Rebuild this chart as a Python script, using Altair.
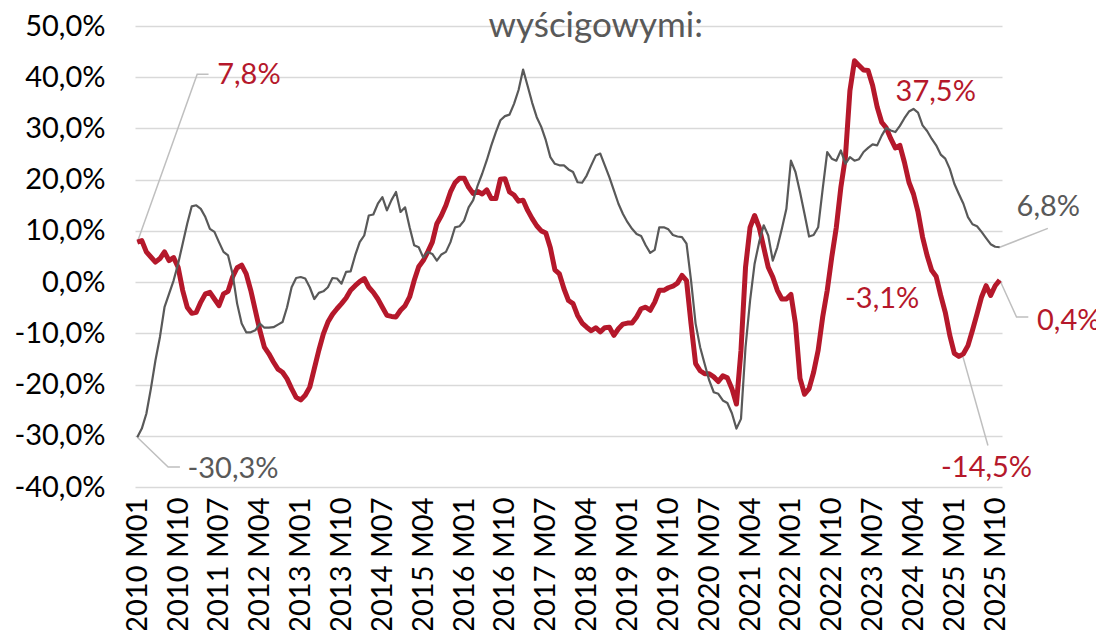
import altair as alt
import pandas as pd

START_YEAR = 2010
red_values = [
    7.8, 8.1, 5.9, 4.9, 3.9, 4.6, 5.9, 4.2, 4.8, 2.9,
    -1.6, -4.9, -6.1, -5.9, -3.9, -2.3, -2.0, -3.3, -4.6, -2.3,
    -1.8, 1.0, 2.8, 3.3, 1.6, -1.6, -5.5, -9.4, -12.7, -14.0,
    -15.6, -17.0, -17.6, -18.9, -20.8, -22.5, -23.0, -22.1, -20.5, -16.9,
    -13.3, -10.1, -7.8, -6.3, -5.2, -4.2, -3.1, -1.6, -0.7, 0.1,
    0.7, -1.0, -2.0, -3.3, -4.9, -6.5, -6.7, -6.8, -5.5, -4.6,
    -2.9, 0.3, 3.0, 4.2, 5.9, 7.8, 11.4, 13.0, 15.0, 17.6,
    19.4, 20.3, 20.3, 18.5, 17.3, 17.7, 17.2, 18.0, 16.3, 16.3,
    20.1, 20.2, 17.6, 17.0, 15.8, 16.0, 14.0, 12.4, 11.0, 10.0,
    9.6, 6.7, 2.4, 1.6, -1.3, -3.6, -4.2, -6.5, -8.0, -8.8,
    -9.5, -8.9, -9.7, -8.9, -8.8, -10.4, -9.1, -8.2, -8.0, -8.0,
    -6.8, -5.2, -4.9, -5.5, -3.9, -1.6, -1.6, -1.1, -0.8, -0.2,
    1.3, 0.3, -8.2, -15.9, -17.3, -17.9, -17.9, -18.5, -19.4, -18.3,
    -18.7, -20.8, -23.8, -13.3, 2.9, 10.7, 13.0, 10.7, 6.8, 2.9,
    1.0, -1.6, -3.3, -3.3, -2.4, -8.1, -18.8, -21.9, -20.8, -17.6,
    -13.3, -6.8, -1.6, 4.9, 10.7, 18.5, 24.4, 37.4, 43.2, 42.3,
    41.4, 41.3, 38.4, 34.2, 31.2, 30.1, 28.0, 26.2, 26.7, 23.4,
    19.5, 17.2, 13.7, 8.8, 5.2, 2.3, 1.1, -2.6, -5.9, -10.4,
    -13.9, -14.5, -14.0, -12.4, -9.4, -6.2, -2.9, -0.7, -2.6, -0.7,
    0.4,
]
gray_values = [
    -30.3, -28.6, -25.7, -20.8, -15.3, -10.7, -4.9, -2.3, 0.3, 3.6,
    7.5, 11.4, 14.8, 15.0, 14.3, 12.7, 10.4, 9.8, 7.8, 5.9,
    5.2, 1.6, -4.2, -8.1, -9.8, -9.8, -9.4, -8.1, -8.9, -8.9,
    -8.8, -8.3, -7.8, -4.9, -1.0, 0.8, 1.0, 0.7, -1.0, -3.3,
    -2.1, -1.8, -1.0, 0.8, 0.7, -0.3, 2.0, 2.1, 5.2, 7.8,
    9.1, 13.0, 13.2, 15.3, 16.6, 14.0, 16.0, 17.6, 13.7, 14.6,
    10.7, 7.2, 6.8, 4.8, 5.9, 5.5, 4.2, 5.4, 5.9, 7.8,
    10.7, 10.9, 12.0, 14.6, 16.0, 18.9, 21.2, 23.8, 26.7, 29.3,
    31.6, 32.4, 32.7, 34.8, 37.5, 41.5, 38.3, 35.0, 32.2, 30.3,
    27.7, 24.4, 23.1, 22.8, 22.8, 22.0, 21.5, 19.5, 19.4, 20.8,
    22.8, 24.7, 25.1, 22.8, 20.5, 17.9, 15.3, 13.3, 11.7, 10.4,
    9.4, 9.0, 7.2, 5.7, 6.3, 10.7, 10.7, 10.3, 9.2, 8.9,
    8.8, 7.5, 0.3, -8.1, -12.7, -16.0, -19.2, -21.5, -21.8, -23.1,
    -23.6, -25.6, -28.6, -26.7, -12.7, -3.6, 3.6, 7.8, 11.1, 9.1,
    4.2, 6.8, 10.4, 14.3, 23.7, 21.5, 17.6, 13.3, 8.9, 9.2,
    10.7, 18.2, 25.4, 24.1, 23.7, 25.7, 23.1, 24.4, 23.7, 24.0,
    25.4, 26.2, 26.9, 26.7, 28.6, 30.1, 29.6, 29.3, 30.5, 32.0,
    33.3, 33.8, 33.1, 30.6, 29.5, 28.0, 26.7, 24.9, 24.1, 22.1,
    19.2, 17.2, 15.3, 12.7, 11.3, 10.9, 9.8, 8.6, 7.4, 6.9,
    6.8,
]

# annotation labels (text, month-index position, value position, colour key)
label_texts = ["7,8%", "-30,3%", "6,8%", "0,4%", "-14,5%", "37,5%", "-3,1%"]
label_x = [24.6, 21.1, 200.7, 205.2, 187.1, 175.9, 164.1]
label_y = [40.4, -36.4, 14.6, -7.5, -36.2, 37.1, -3.2]
label_col = ["red", "gray", "gray", "red", "red", "red", "red"]

# leader lines: id, month-index, value
leader_id = [0, 0, 0, 1, 1, 1, 2, 2, 3, 3, 3, 4, 4]
leader_x = [0, 13.2, 15.7, 0, 6.8, 9.4, 190, 200.6, 190, 193.7, 196.3, 181.9, 187.4]
leader_y = [7.8, 40.6, 40.6, -30.3, -36.1, -36.1, 6.8, 10.5, 0.4, -6.8, -6.8, -14.6, -31.9]

title_text = "wyścigowymi:"
y_ticks = [-40, -30, -20, -10, 0, 10, 20, 30, 40, 50]
x_ticks = list(range(0, 190, 9))

RED = "#B5182B"
GRAY = "#595959"
FONT = "Lato"
FS = 29

n = len(red_values)
df_red = pd.DataFrame({"i": range(n), "v": red_values})
df_gray = pd.DataFrame({"i": range(len(gray_values)), "v": gray_values})
df_lab = pd.DataFrame({"t": label_texts, "i": label_x, "v": label_y, "c": label_col})
df_lead = pd.DataFrame({"id": leader_id, "i": leader_x, "v": leader_y,
                        "o": list(range(len(leader_id)))})
df_title = pd.DataFrame({"t": [title_text], "i": [101], "v": [47.9]})

x_label_expr = ("toString(%d + floor(datum.value / 12)) + ' M' + "
                "((datum.value %% 12) + 1 < 10 ? '0' : '') + toString((datum.value %% 12) + 1)"
                % START_YEAR)
y_label_expr = ("(datum.value < 0 ? '-' : '') + "
                "replace(format(abs(datum.value), '.1f'), '.', ',') + '%'")

xscale = alt.Scale(domain=[-0.5, n - 0.5], nice=False, zero=False)
yscale = alt.Scale(domain=[-40, 50], nice=False, zero=False)

x_enc = alt.X("i:Q", scale=xscale, axis=alt.Axis(
    values=x_ticks, labelExpr=x_label_expr, labelAngle=-90, labelAlign="right",
    labelBaseline="middle", labelFont=FONT, labelFontSize=FS, labelColor="#000000",
    labelPadding=10, ticks=False, domain=False, grid=False, title=None,
    labelOverlap=False, labelFlush=False))
y_enc = alt.Y("v:Q", scale=yscale, axis=alt.Axis(
    values=y_ticks, labelExpr=y_label_expr, labelFont=FONT, labelFontSize=FS,
    labelColor="#000000", labelPadding=30, ticks=False, domain=False,
    grid=True, gridColor="#D9D9D9", gridWidth=1.5, title=None))

base_axes = alt.Chart(df_red).mark_line(opacity=0).encode(x=x_enc, y=y_enc)

red_line = alt.Chart(df_red).mark_line(color=RED, strokeWidth=5, strokeJoin="round").encode(
    x=alt.X("i:Q", scale=xscale), y=alt.Y("v:Q", scale=yscale))
gray_line = alt.Chart(df_gray).mark_line(color=GRAY, strokeWidth=2.2, strokeJoin="round").encode(
    x=alt.X("i:Q", scale=xscale), y=alt.Y("v:Q", scale=yscale))

leaders = alt.Chart(df_lead).mark_line(color="#BFBFBF", strokeWidth=1.5).encode(
    x=alt.X("i:Q", scale=xscale), y=alt.Y("v:Q", scale=yscale),
    detail="id:N", order="o:Q")

labels = alt.Chart(df_lab).mark_text(font=FONT, fontSize=FS, align="center",
                                     baseline="middle").encode(
    x=alt.X("i:Q", scale=xscale), y=alt.Y("v:Q", scale=yscale), text="t:N",
    color=alt.Color("c:N", scale=alt.Scale(domain=["red", "gray"], range=[RED, GRAY]),
                    legend=None))

title = alt.Chart(df_title).mark_text(font=FONT, fontSize=35, align="center",
                                      baseline="alphabetic", color=GRAY).encode(
    x=alt.X("i:Q", scale=xscale), y=alt.Y("v:Q", scale=yscale), text="t:N")

chart = alt.layer(base_axes, leaders, red_line, gray_line, labels, title).properties(
    width=867, height=461,
    autosize=alt.AutoSizeParams(type="none"),
    padding={"left": 127, "top": 18, "right": 94, "bottom": 143},
).configure(background="white", view=alt.ViewConfig(strokeWidth=0))

chart.save("out.html", embed_options={"renderer": "svg", "actions": False})
